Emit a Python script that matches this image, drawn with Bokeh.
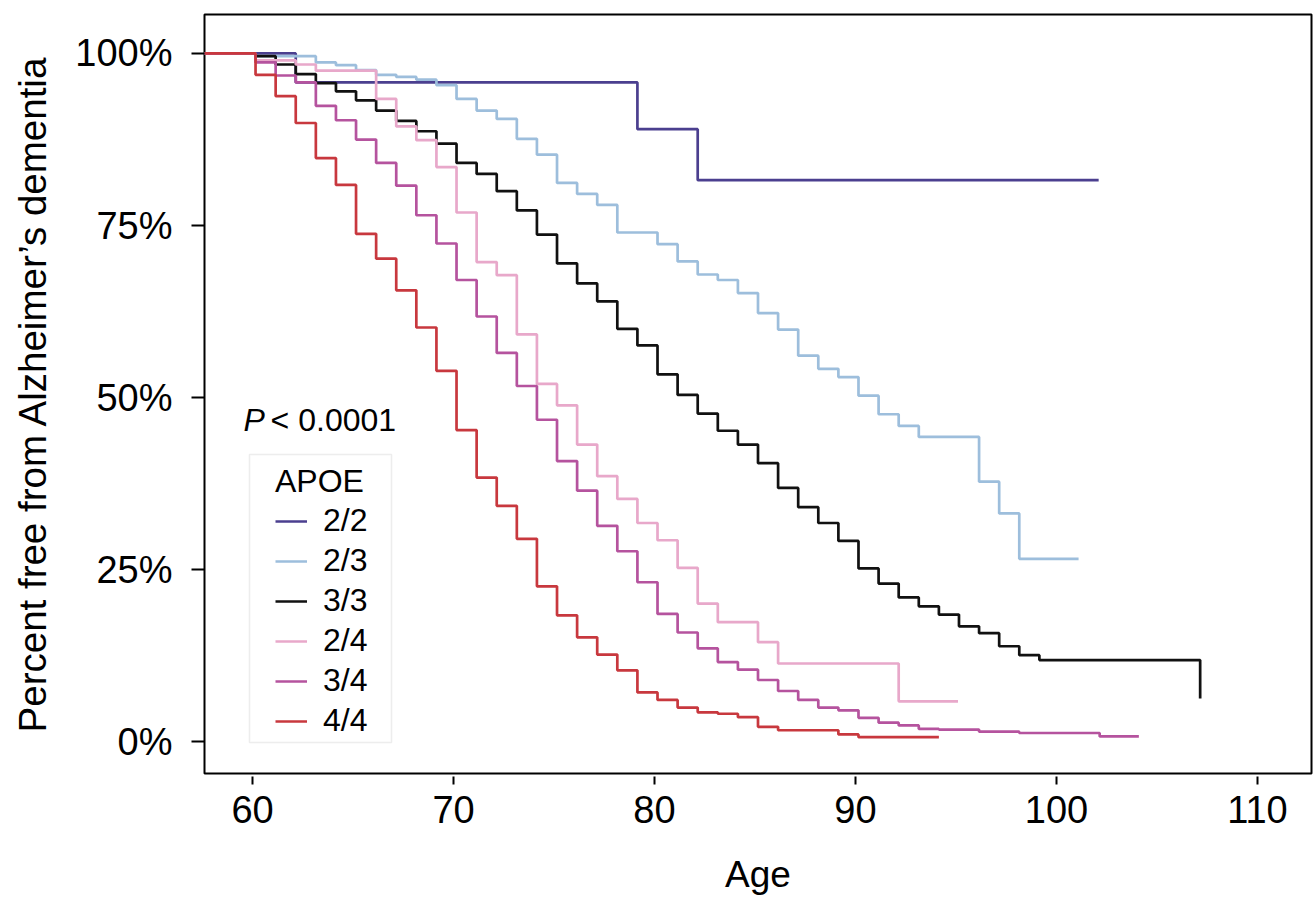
from bokeh.plotting import figure
from bokeh.models import Range1d, FixedTicker, PrintfTickFormatter, Label, BoxAnnotation
from bokeh.embed import file_html
from bokeh.resources import INLINE

# ---------------- data ----------------
start_age = 57.6

ages_22 = [62.15, 79.15, 82.15]
surv_22 = [95.8, 89.0, 81.6]
end_22 = 102.1

ages_23 = [60.15, 63.15, 64.15, 65.15, 66.15, 67.15, 68.15, 69.15, 70.15, 71.15,
           72.15, 73.15, 74.15, 75.15, 76.15, 77.15, 78.15, 80.15, 81.15, 82.15,
           83.15, 84.15, 85.15, 86.15, 87.15, 88.15, 89.15, 90.15, 91.15, 92.15,
           93.15, 96.15, 97.15, 98.15]
surv_23 = [99.6, 98.7, 98.3, 97.6, 96.9, 96.6, 96.2, 95.4, 93.4, 91.7,
           90.5, 87.6, 85.3, 81.2, 79.6, 78.0, 74.0, 72.3, 69.8, 67.9,
           67.1, 65.2, 62.3, 59.9, 56.1, 54.2, 53.0, 50.3, 47.6, 45.9,
           44.3, 37.8, 33.2, 26.6]
end_23 = 101.1

ages_33 = [60.15, 61.15, 62.15, 63.15, 64.15, 65.15, 66.15, 67.15, 68.15, 69.15,
           70.15, 71.15, 72.15, 73.15, 74.15, 75.15, 76.15, 77.15, 78.15, 79.15,
           80.15, 81.15, 82.15, 83.15, 84.15, 85.15, 86.15, 87.15, 88.15, 89.15,
           90.15, 91.15, 92.15, 93.15, 94.15, 95.15, 96.15, 97.15, 98.15, 99.15,
           107.15]
surv_33 = [99.6, 98.4, 97.0, 95.7, 94.5, 93.2, 91.7, 90.2, 88.7, 86.9,
           84.1, 82.5, 80.0, 77.2, 73.7, 69.5, 66.6, 64.0, 60.0, 57.6,
           53.4, 50.4, 47.7, 45.2, 43.2, 40.5, 36.9, 34.1, 31.8, 29.2,
           25.2, 23.0, 21.0, 19.7, 18.5, 16.8, 15.8, 13.9, 12.6, 11.9,
           6.3]
end_33 = 107.15

ages_24 = [60.15, 62.15, 63.15, 66.15, 67.15, 68.15, 69.15, 70.15, 71.15, 72.15,
           73.15, 74.15, 75.15, 76.15, 77.15, 78.15, 79.15, 80.15, 81.15, 82.15,
           83.15, 85.15, 86.15, 92.15]
surv_24 = [99.0, 98.4, 97.5, 93.4, 89.4, 87.4, 83.5, 76.9, 69.7, 67.8,
           59.2, 52.0, 48.9, 43.2, 38.6, 35.3, 31.8, 29.3, 25.3, 20.1,
           17.4, 14.5, 11.4, 5.9]
end_24 = 95.1

ages_34 = [60.15, 61.15, 62.15, 63.15, 64.15, 65.15, 66.15, 67.15, 68.15, 69.15,
           70.15, 71.15, 72.15, 73.15, 74.15, 75.15, 76.15, 77.15, 78.15, 79.15,
           80.15, 81.15, 82.15, 83.15, 84.15, 85.15, 86.15, 87.15, 88.15, 89.15,
           90.15, 91.15, 92.15, 93.15, 94.15, 96.15, 98.15, 102.15]
surv_34 = [98.7, 96.8, 95.8, 92.4, 90.3, 87.5, 84.1, 80.8, 76.5, 72.4,
           67.1, 61.8, 56.5, 51.7, 46.8, 40.8, 36.5, 31.4, 27.7, 23.2,
           18.6, 15.9, 13.6, 11.6, 10.5, 9.0, 7.4, 6.1, 5.0, 4.6,
           3.5, 2.8, 2.4, 1.9, 1.8, 1.5, 1.3, 0.8]
end_34 = 104.1

ages_44 = [60.15, 61.15, 62.15, 63.15, 64.15, 65.15, 66.15, 67.15, 68.15, 69.15,
           70.15, 71.15, 72.15, 73.15, 74.15, 75.15, 76.15, 77.15, 78.15, 79.15,
           80.15, 81.15, 82.15, 83.15, 84.15, 85.15, 86.15, 89.15, 90.15]
surv_44 = [96.9, 93.8, 89.9, 84.8, 80.9, 73.8, 70.2, 65.6, 60.2, 53.9,
           45.3, 38.4, 34.3, 29.5, 22.6, 18.4, 15.2, 12.7, 10.4, 7.2,
           6.1, 5.0, 4.3, 4.1, 3.6, 2.2, 1.7, 1.1, 0.7]
end_44 = 94.15

genotypes = ["2/2", "2/3", "3/3", "2/4", "3/4", "4/4"]
colors = ["#4B3F8F", "#9DBEDC", "#111111", "#E8A8CA", "#B5539E", "#C8383E"]

x_ticks = [60, 70, 80, 90, 100, 110]
y_ticks = [0, 25, 50, 75, 100]

# ---------------- figure ----------------
FONT = "Liberation Sans"

p = figure(width=1314, height=900, output_backend="svg", toolbar_location=None,
           x_range=Range1d(57.61, 112.69), y_range=Range1d(-4.58, 105.66),
           min_border_left=204, min_border_right=3, min_border_top=14,
           min_border_bottom=127, background_fill_color="white",
           border_fill_color="white")
p.grid.visible = False
p.outline_line_color = "black"
p.outline_line_width = 2

series = [
    (ages_22, surv_22, end_22),
    (ages_23, surv_23, end_23),
    (ages_33, surv_33, end_33),
    (ages_24, surv_24, end_24),
    (ages_34, surv_34, end_34),
    (ages_44, surv_44, end_44),
]
for (ages, surv, end), name, col in zip(series, genotypes, colors):
    xs = [start_age] + ages + [end]
    ys = [100.0] + surv + [surv[-1]]
    p.step(xs, ys, mode="after", line_color=col, line_width=2.7, legend_label=name)

# axes
xa = p.xaxis[0]
xa.ticker = FixedTicker(ticks=x_ticks)
xa.axis_line_alpha = 0
xa.major_tick_in = -3
xa.major_tick_out = 11
xa.major_tick_line_width = 2
xa.minor_tick_line_alpha = 0
xa.major_label_text_font = FONT
xa.major_label_text_font_size = "38px"
xa.major_label_text_color = "black"
xa.major_label_standoff = 11
xa.axis_label = "Age"
xa.axis_label_text_font = FONT
xa.axis_label_text_font_size = "37px"
xa.axis_label_text_font_style = "normal"
xa.axis_label_text_color = "black"
xa.axis_label_standoff = 28

ya = p.yaxis[0]
ya.ticker = FixedTicker(ticks=y_ticks)
ya.formatter = PrintfTickFormatter(format="%d%%")
ya.axis_line_alpha = 0
ya.major_tick_in = 0
ya.major_tick_out = 13
ya.major_tick_line_width = 2
ya.minor_tick_line_alpha = 0
ya.major_label_text_font = FONT
ya.major_label_text_font_size = "38px"
ya.major_label_text_color = "black"
ya.major_label_standoff = 19
ya.axis_label = "Percent free from Alzheimer\u2019s dementia"
ya.axis_label_text_font = FONT
ya.axis_label_text_font_size = "38.5px"
ya.axis_label_text_font_style = "normal"
ya.axis_label_text_color = "black"
ya.axis_label_standoff = 18

# legend
lg = p.legend[0]
lg.title = "APOE"
lg.title_text_font = FONT
lg.title_text_font_size = "32px"
lg.title_text_font_style = "normal"
lg.title_text_color = "black"
lg.title_standoff = 2
lg.label_text_font = FONT
lg.label_text_font_size = "32px"
lg.label_text_color = "black"
lg.label_height = 30
lg.glyph_height = 30
lg.glyph_width = 32
lg.label_standoff = 16
lg.spacing = 3
lg.padding = 0
lg.margin = 0
lg.border_line_alpha = 0
lg.background_fill_alpha = 0
lg.location = (71, 34)

box = BoxAnnotation(left=249, right=391, top=454, bottom=742,
                    left_units="canvas", right_units="canvas",
                    top_units="canvas", bottom_units="canvas",
                    fill_alpha=0, line_color="#c4c4c4", line_width=1.5)
p.add_layout(box)

# p-value text
p.add_layout(Label(x=59.55, y=46.8, text="P", text_font=FONT, text_font_size="32px",
                   text_font_style="italic", text_baseline="alphabetic",
                   text_color="black"))
p.add_layout(Label(x=60.9, y=46.8, text="< 0.0001", text_font=FONT, text_font_size="32px",
                   text_baseline="alphabetic", text_color="black"))

open("out.html", "w").write(file_html(p, INLINE))
